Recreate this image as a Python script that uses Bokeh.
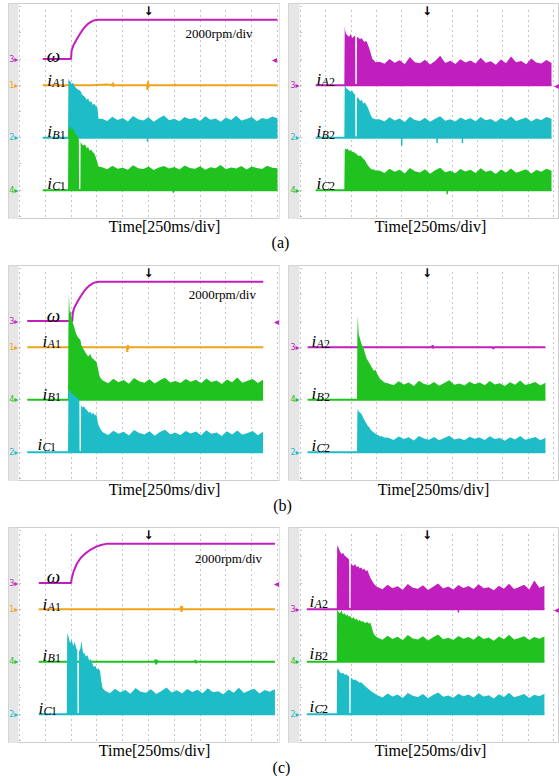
from bokeh.plotting import figure
from bokeh.layouts import column, row
from bokeh.models import Range1d, FixedTicker, BoxAnnotation, Label
from bokeh.core.properties import value
from bokeh.embed import file_html
from bokeh.resources import INLINE

# ---------------- scope settings ----------------
DIV_MS = 250            # time base: 250 ms / div
RPM_PER_DIV = 2000      # speed channel: 2000 rpm / div
T_TRIG = 1250           # trigger position (ms)
X_TICKS = [0, 250, 500, 750, 1000, 1250, 1500, 1750, 2000, 2250, 2500]
Y_TICKS = [0, 1, 2, 3, 4, 5, 6, 7, 8]

MAGENTA = "#c01ebd"
ORANGE = "#f0a41c"
CYAN = "#1dbcc6"
GREEN = "#1fc21f"
CH_COLOR = {1: ORANGE, 2: CYAN, 3: MAGENTA, 4: GREEN}
SERIF = "Liberation Serif"

# ================= DATA (time in ms, currents in div, speed in rpm) =================
# ---------- (a) left ----------
LA_wt = [225, 500, 504, 520, 540, 560, 585, 610, 640, 670, 700, 730, 760, 2500]
LA_w = [0, 0, 600, 1000, 1300, 1580, 1900, 2200, 2500, 2720, 2870, 2960, 3000, 3000]
LA_iat = [225, 700, 850, 900, 905, 910, 915, 1000, 1235, 1240, 1245, 1250, 1255, 1500, 1505, 1510, 2500]
LA_ia = [0, 0, 0.03, 0, 0.10, -0.05, 0, 0, 0, -0.18, 0.15, -0.08, 0, 0, 0.05, 0, 0]
LA_t = [225, 470, 474, 478, 490, 505, 520, 535, 550, 563, 575, 577, 590, 592, 605, 620, 635, 650,
        665, 680, 695, 710, 725, 740, 755, 765,
        800, 850, 900, 950, 1000, 1050, 1100, 1150, 1200, 1250, 1300, 1350, 1400, 1450, 1500,
        1550, 1600, 1650, 1700, 1750, 1800, 1850, 1900, 1950, 2000, 2050, 2100, 2150, 2200,
        2250, 2300, 2350, 2400, 2450, 2500]
LA_ib = [0, 0, 2.30, 2.20, 2.15, 2.05, 2.10, 1.95, 1.90, 1.85, 1.80, 1.85, 1.75, 1.80, 1.65, 1.60,
         1.55, 1.45, 1.50, 1.35, 1.40, 1.25, 1.30, 1.20, 1.15, 0.72,
         0.72, 0.64, 0.80, 0.68, 0.75, 0.62, 0.83, 0.70, 0.66, 0.78, 0.61, 0.74, 0.85, 0.67, 0.72,
         0.63, 0.79, 0.70, 0.76, 0.64, 0.82, 0.69, 0.73, 0.61, 0.77, 0.68, 0.84, 0.66, 0.71, 0.79,
         0.63, 0.75, 0.70, 0.81, 0.74]
LA_ic = [0, 0, 2.20, 2.35, 2.45, 2.30, 2.35, 2.20, 2.10, 2.05, 1.95, 0.05, 0.05, 1.85, 1.75, 1.70,
         1.75, 1.60, 1.65, 1.50, 1.55, 1.45, 1.40, 1.25, 1.05, 0.90,
         0.88, 0.80, 0.93, 0.82, 0.86, 0.78, 0.95, 0.84, 0.81, 0.90, 0.77, 0.87, 0.92, 0.83, 0.89,
         0.79, 0.94, 0.85, 0.82, 0.91, 0.78, 0.88, 0.84, 0.96, 0.80, 0.87, 0.83, 0.92, 0.79, 0.90,
         0.85, 0.81, 0.93, 0.86, 0.84]
LA_ib_dip_t = [1240]
LA_ib_dip = [0.14]
LA_ic_dip_t = [1490]
LA_ic_dip = [0.10]

# ---------- (a) right ----------
RA_t = [150, 433, 437, 441, 450, 465, 480, 495, 510, 525, 540, 542, 556, 558, 575, 590, 605, 620,
        635, 650, 665, 680, 695, 710, 725, 740,
        780, 830, 880, 930, 980, 1030, 1080, 1130, 1180, 1230, 1280, 1330, 1380, 1430, 1480,
        1530, 1580, 1630, 1680, 1730, 1780, 1830, 1880, 1930, 1980, 2030, 2080, 2130, 2180,
        2230, 2280, 2330, 2380, 2430, 2480]
RA_ia = [0, 0, 2.27, 2.10, 1.95, 1.90, 1.85, 1.95, 1.80, 1.85, 1.90, 0.05, 0.05, 1.85, 1.80, 1.75,
         1.80, 1.70, 1.65, 1.70, 1.55, 1.40, 1.20, 1.00, 0.95, 0.88,
         0.90, 0.82, 1.00, 0.86, 0.95, 0.80, 1.08, 0.88, 0.84, 0.97, 0.79, 0.92, 1.12, 0.85, 0.93,
         0.81, 0.99, 0.87, 0.94, 0.83, 1.05, 0.86, 0.91, 0.78, 0.98, 0.84, 1.10, 0.88, 0.92, 0.80,
         1.02, 0.87, 0.83, 0.96, 0.85]
RA_ib = [0, 0, 1.95, 2.00, 1.90, 1.85, 1.80, 1.75, 1.80, 1.70, 1.65, 0.05, 0.05, 1.55, 1.50, 1.40,
         1.45, 1.30, 1.35, 1.25, 1.15, 1.00, 0.85, 0.75, 0.72, 0.70,
         0.70, 0.62, 0.78, 0.66, 0.73, 0.60, 0.80, 0.68, 0.64, 0.76, 0.61, 0.72, 0.82, 0.65, 0.70,
         0.62, 0.77, 0.68, 0.74, 0.63, 0.79, 0.67, 0.71, 0.60, 0.75, 0.66, 0.81, 0.64, 0.70, 0.77,
         0.62, 0.73, 0.68, 0.79, 0.72]
RA_ic = [0, 0, 1.50, 1.60, 1.55, 1.58, 1.50, 1.52, 1.45, 1.48, 1.40, 1.42, 1.38, 1.35, 1.30, 1.32,
         1.28, 1.20, 1.15, 1.05, 0.95, 0.88, 0.82, 0.78, 0.80, 0.75,
         0.75, 0.66, 0.82, 0.70, 0.78, 0.64, 0.85, 0.72, 0.68, 0.80, 0.63, 0.76, 0.86, 0.69, 0.74,
         0.65, 0.81, 0.71, 0.78, 0.66, 0.84, 0.70, 0.75, 0.62, 0.79, 0.68, 0.83, 0.67, 0.73, 0.80,
         0.64, 0.77, 0.70, 0.82, 0.74]
RA_ib_dip_t = [1000, 1350, 1600]
RA_ib_dip = [0.30, 0.20, 0.20]
RA_ic_dip_t = [1450]
RA_ic_dip = [0.15]

# ---------- (b) left ----------
LB_wt = [75, 512, 516, 530, 550, 570, 595, 620, 650, 680, 710, 740, 770, 2362]
LB_w = [0, 0, 600, 1000, 1300, 1580, 1900, 2200, 2500, 2720, 2870, 2960, 3000, 3000]
LB_iat = [75, 1040, 1045, 1050, 1055, 1060, 2362]
LB_ia = [0, 0, -0.18, 0.08, -0.05, 0, 0]
LB_t = [75, 470, 474, 478, 488, 495, 505, 520, 535, 550, 565, 580, 582, 595, 597, 610, 625, 640,
        655, 670, 685, 700, 715, 730, 745, 760, 775, 790,
        810, 860, 910, 960, 1010, 1060, 1110, 1160, 1210, 1260, 1310, 1360, 1410, 1460, 1510,
        1560, 1610, 1660, 1710, 1760, 1810, 1860, 1910, 1960, 2010, 2060, 2110, 2160, 2210,
        2260, 2310, 2360]
LB_ib = [0, 0, 2.80, 4.00, 3.30, 3.40, 3.10, 2.90, 2.70, 2.50, 2.40, 2.30, 2.35, 2.20, 2.10, 2.00,
         1.90, 1.80, 1.70, 1.65, 1.75, 1.60, 1.55, 1.50, 1.45, 1.20, 0.90, 0.80,
         0.72, 0.63, 0.80, 0.67, 0.75, 0.61, 0.83, 0.70, 0.65, 0.78, 0.62, 0.74, 0.84, 0.66, 0.71,
         0.64, 0.79, 0.69, 0.76, 0.63, 0.81, 0.68, 0.73, 0.60, 0.77, 0.67, 0.85, 0.65, 0.72, 0.79,
         0.64, 0.76]
LB_ic = [0, 0, 2.20, 2.40, 2.35, 2.30, 2.25, 2.20, 2.15, 2.10, 2.05, 2.00, 0.05, 0.05, 1.80, 1.70,
         1.75, 1.65, 1.60, 1.50, 1.55, 1.45, 1.50, 1.40, 1.45, 1.10, 0.95, 0.85,
         0.75, 0.66, 0.82, 0.70, 0.78, 0.64, 0.85, 0.73, 0.68, 0.80, 0.63, 0.77, 0.86, 0.69, 0.74,
         0.66, 0.81, 0.71, 0.79, 0.65, 0.84, 0.70, 0.75, 0.62, 0.80, 0.68, 0.83, 0.67, 0.73, 0.81,
         0.65, 0.78]

# ---------- (b) right ----------
RB_iat = [70, 1300, 1305, 1310, 1315, 1900, 1905, 1910, 2420]
RB_ia = [0, 0, 0.08, -0.04, 0, 0, -0.06, 0, 0]
RB_t = [70, 558, 562, 566, 575, 590, 605, 620, 635, 650, 665, 680, 695, 710, 725, 740, 755, 770,
        785, 800, 815, 830,
        870, 920, 970, 1020, 1070, 1120, 1170, 1220, 1270, 1320, 1370, 1420, 1470, 1520, 1570,
        1620, 1670, 1720, 1770, 1820, 1870, 1920, 1970, 2020, 2070, 2120, 2170, 2220, 2270,
        2320, 2370, 2420]
RB_ib = [0, 0, 2.60, 3.20, 2.50, 2.30, 2.10, 2.00, 1.80, 1.60, 1.50, 1.40, 1.30, 1.20, 1.10, 1.15,
         1.00, 0.90, 0.80, 0.75, 0.70, 0.66,
         0.62, 0.55, 0.70, 0.58, 0.66, 0.52, 0.72, 0.60, 0.56, 0.68, 0.53, 0.64, 0.74, 0.57, 0.62,
         0.54, 0.69, 0.59, 0.66, 0.55, 0.71, 0.58, 0.63, 0.52, 0.67, 0.57, 0.73, 0.56, 0.61, 0.68,
         0.54, 0.65]
RB_ic = [0, 0, 1.50, 1.65, 1.55, 1.50, 1.45, 1.30, 1.20, 1.10, 1.00, 0.95, 0.85, 0.80, 0.75, 0.70,
         0.68, 0.65, 0.60, 0.62, 0.58, 0.56,
         0.55, 0.47, 0.60, 0.50, 0.57, 0.45, 0.62, 0.52, 0.48, 0.58, 0.46, 0.54, 0.63, 0.49, 0.53,
         0.46, 0.59, 0.51, 0.56, 0.47, 0.61, 0.50, 0.54, 0.44, 0.57, 0.49, 0.62, 0.48, 0.52, 0.58,
         0.46, 0.55]

# ---------- (c) left ----------
LC_wt = [187, 500, 505, 525, 555, 592, 630, 690, 740, 790, 850, 2475]
LC_w = [0, 0, 300, 900, 1450, 1900, 2200, 2550, 2750, 2900, 3000, 3000]
LC_iat = [187, 1560, 1565, 1570, 1575, 1580, 2475]
LC_ia = [0, 0, 0.12, -0.10, 0.12, 0, 0]
LC_ibt = [187, 1310, 1318, 1325, 1332, 1338, 1700, 1705, 1710, 1715, 2475]
LC_ib = [0, 0, 0.08, -0.10, 0.06, 0, 0, 0.06, -0.05, 0, 0]
LC_t = [187, 458, 462, 466, 475, 490, 505, 520, 535, 550, 560, 562, 575, 577, 590, 600, 615, 630,
        645, 660, 675, 690, 705, 720, 735, 750, 765, 780, 795, 805,
        825, 875, 925, 975, 1025, 1075, 1125, 1175, 1225, 1275, 1325, 1375, 1425, 1475, 1525,
        1575, 1625, 1675, 1725, 1775, 1825, 1875, 1925, 1975, 2025, 2075, 2125, 2175, 2225,
        2275, 2325, 2375, 2425, 2475]
LC_ic = [0, 0, 2.90, 3.10, 2.95, 2.70, 2.85, 2.60, 2.75, 2.50, 2.45, 0.05, 0.05, 2.40, 2.50, 2.80,
         2.35, 2.30, 2.20, 2.25, 2.05, 2.10, 1.95, 1.80, 1.85, 1.70, 1.75, 1.65, 1.20, 1.00,
         0.90, 0.80, 0.97, 0.84, 0.92, 0.78, 1.00, 0.86, 0.82, 0.95, 0.77, 0.89, 1.02, 0.83, 0.91,
         0.79, 0.96, 0.85, 0.93, 0.80, 0.99, 0.84, 0.88, 0.76, 0.94, 0.82, 1.01, 0.81, 0.90, 0.97,
         0.79, 0.92, 0.86, 0.95]

# ---------- (c) right ----------
RC_t = [62, 358, 362, 366, 375, 390, 405, 420, 435, 450, 465, 480, 482, 495, 497, 510, 525, 540,
        555, 570, 585, 600, 615, 630, 645, 660, 675, 690, 705, 720, 735, 750,
        760, 810, 860, 910, 960, 1010, 1060, 1110, 1160, 1210, 1260, 1310, 1360, 1410, 1460,
        1510, 1560, 1610, 1660, 1710, 1760, 1810, 1860, 1910, 1960, 2010, 2060, 2110, 2160,
        2210, 2260, 2310, 2360, 2410]
RC_ia = [0, 0, 2.30, 2.45, 2.35, 2.20, 2.10, 2.15, 2.05, 2.00, 1.95, 1.90, 0.05, 0.05, 1.75, 1.70,
         1.65, 1.72, 1.60, 1.65, 1.55, 1.60, 1.50, 1.55, 1.45, 1.50, 1.35, 1.20, 1.10, 1.00, 0.92,
         0.88,
         0.85, 0.76, 0.93, 0.80, 0.88, 0.74, 0.96, 0.82, 0.78, 0.91, 0.73, 0.86, 0.98, 0.79, 0.87,
         0.75, 0.92, 0.81, 0.89, 0.77, 0.95, 0.80, 0.84, 0.72, 0.90, 0.78, 0.97, 0.77, 0.85, 0.93,
         0.75, 1.10, 0.82, 0.90]
RC_ib = [0, 0, 1.95, 2.00, 1.90, 1.85, 1.95, 1.80, 1.85, 1.75, 1.80, 1.70, 1.75, 1.72, 1.70, 1.65,
         1.70, 1.60, 1.65, 1.55, 1.60, 1.52, 1.55, 1.50, 1.48, 1.52, 1.45, 1.50, 1.30, 1.10, 1.00,
         0.95,
         0.92, 0.84, 0.99, 0.87, 0.95, 0.82, 1.02, 0.89, 0.85, 0.97, 0.81, 0.93, 1.04, 0.86, 0.91,
         0.83, 0.98, 0.88, 0.94, 0.84, 1.00, 0.87, 0.92, 0.80, 0.96, 0.86, 1.03, 0.85, 0.90, 0.97,
         0.83, 0.94, 0.88, 0.96]
RC_ic = [0, 0, 1.65, 1.75, 1.70, 1.60, 1.55, 1.58, 1.50, 1.52, 1.48, 1.45, 0.05, 0.05, 1.40, 1.35,
         1.30, 1.32, 1.28, 1.25, 1.20, 1.22, 1.15, 1.10, 1.05, 1.00, 0.95, 0.90, 0.86, 0.82, 0.78,
         0.75,
         0.72, 0.64, 0.79, 0.68, 0.75, 0.62, 0.81, 0.70, 0.66, 0.77, 0.61, 0.73, 0.83, 0.67, 0.71,
         0.63, 0.78, 0.69, 0.75, 0.64, 0.80, 0.68, 0.72, 0.60, 0.76, 0.66, 0.82, 0.65, 0.70, 0.77,
         0.62, 0.74, 0.69, 0.78]
RC_ia_dip_t = [1560]
RC_ia_dip = [0.12]

# ================= drawing helpers =================
PANEL_H = 216


def new_panel(left):
    if left:
        xr = Range1d(-106.6, 2529)
        fw = 272
    else:
        xr = Range1d(-118.6, 2559)
        fw = 271
    p = figure(frame_width=fw, frame_height=PANEL_H, x_range=xr, y_range=Range1d(-0.115, 8.115),
               toolbar_location=None, output_backend="svg",
               min_border_left=8, min_border_right=0, min_border_top=3, min_border_bottom=0)
    p.xaxis.visible = False
    p.yaxis.visible = False
    p.background_fill_color = "white"
    p.border_fill_color = "white"
    p.outline_line_color = "#cdcdcd"
    # grey channel-marker strip (drawn first, under the grid)
    p.add_layout(BoxAnnotation(right=-10, fill_color="#e6e6e6", fill_alpha=1,
                               line_color=None, level="image"))
    if left:
        p.add_layout(BoxAnnotation(left=2512, fill_color="#e6e6e6", fill_alpha=1,
                                   line_color=None, level="image"))
    p.xgrid.ticker = FixedTicker(ticks=X_TICKS)
    p.ygrid.ticker = FixedTicker(ticks=Y_TICKS)
    for g in (p.xgrid, p.ygrid):
        g.grid_line_color = "#8c8c8c"
        g.grid_line_dash = "1 4"
        g.grid_line_width = 1
        if "cross_bounds" in g.properties():
            g.cross_bounds = (0, 2500) if g is p.ygrid else (0, 8)
    p.add_layout(Label(x=T_TRIG, y=8.115, text="↓", text_align="center", text_baseline="top",
                       text_font="DejaVu Sans", text_font_style="bold", text_font_size="12px",
                       text_color="black"))
    return p


def markers(p, chans, right_level=None, right_x=2480):
    for ch, lvl in chans:
        p.add_layout(Label(x=-55, y=lvl, text=f"{ch}▸", text_align="center", text_baseline="middle",
                           text_font="DejaVu Sans", text_font_size="8px", text_color=CH_COLOR[ch]))
    if right_level is not None:
        p.add_layout(Label(x=right_x, y=right_level, text="◂", text_align="center",
                           text_baseline="middle", text_font="DejaVu Sans", text_font_size="10px",
                           text_color=MAGENTA))


def band(p, t, top, level, color, dip_t=None, dip=None):
    p.varea(x=t, y1=[level] * len(t), y2=[level + v for v in top], fill_color=color)
    p.line(x=[t[0], t[-1]], y=[level, level], line_color=color, line_width=2)
    if dip_t:
        p.segment(x0=dip_t, y0=[level] * len(dip_t), x1=dip_t, y1=[level - d for d in dip],
                  line_color=color, line_width=1.5)


def flat(p, t, v, level, color):
    p.line(x=t, y=[level + a for a in v], line_color=color, line_width=2)


def speed(p, t, w, level):
    p.line(x=t, y=[level + s / RPM_PER_DIV for s in w], line_color=MAGENTA, line_width=2)


def omega_label(p, x, y):
    p.add_layout(Label(x=x, y=y, text="ω", text_align="center", text_baseline="alphabetic",
                       text_font=SERIF, text_font_style="italic", text_font_size="19px",
                       text_color="black"))


def i_label(p, x, y, letter, num):
    p.add_layout(Label(x=x, y=y, text="i", text_baseline="alphabetic", text_font=SERIF,
                       text_font_style="italic", text_font_size="17px", text_color="black"))
    p.add_layout(Label(x=x, y=y - 0.1, x_offset=5, text=letter, text_baseline="alphabetic",
                       text_font=SERIF, text_font_style="italic", text_font_size="12px",
                       text_color="black"))
    p.add_layout(Label(x=x, y=y - 0.1, x_offset=12.5, text=num, text_baseline="alphabetic",
                       text_font=SERIF, text_font_size="12px", text_color="black"))


def rpm_label(p, x, y):
    p.add_layout(Label(x=x, y=y, text="2000rpm/div", text_baseline="middle", text_font=SERIF,
                       text_font_size="13px", text_color="black"))


def caption(h, y_time, y_tag, x_left, x_right, x_tag, tag):
    c = figure(frame_width=559, frame_height=h, x_range=Range1d(0, 559), y_range=Range1d(h, 0),
               toolbar_location=None, output_backend="svg", min_border=0)
    c.xaxis.visible = False
    c.yaxis.visible = False
    c.grid.visible = False
    c.outline_line_color = None
    c.text(x=[x_left, x_right], y=[y_time, y_time], text=["Time[250ms/div]", "Time[250ms/div]"],
           text_font=value(SERIF), text_font_size="16px", text_align="center",
           text_baseline="middle", text_color="black")
    c.text(x=[x_tag], y=[y_tag], text=[tag], text_font=value(SERIF), text_font_size="16px",
           text_align="center", text_baseline="middle", text_color="black")
    return c


# ================= (a) =================
pa1 = new_panel(True)
speed(pa1, LA_wt, LA_w, 6)
flat(pa1, LA_iat, LA_ia, 5, ORANGE)
band(pa1, LA_t, LA_ib, 3, CYAN, LA_ib_dip_t, LA_ib_dip)
band(pa1, LA_t, LA_ic, 1, GREEN, LA_ic_dip_t, LA_ic_dip)
markers(pa1, [(3, 6), (1, 5), (2, 3), (4, 1)], right_level=6, right_x=2470)
omega_label(pa1, 330, 6.15)
i_label(pa1, 270, 5.2, "A", "1")
i_label(pa1, 270, 3.22, "B", "1")
i_label(pa1, 270, 1.25, "C", "1")
rpm_label(pa1, 1608, 6.98)

pa2 = new_panel(False)
band(pa2, RA_t, RA_ia, 5, MAGENTA)
band(pa2, RA_t, RA_ib, 3, CYAN, RA_ib_dip_t, RA_ib_dip)
band(pa2, RA_t, RA_ic, 1, GREEN, RA_ic_dip_t, RA_ic_dip)
markers(pa2, [(3, 5), (2, 3), (4, 1)], right_level=5, right_x=2530)
i_label(pa2, 158, 5.23, "A", "2")
i_label(pa2, 158, 3.22, "B", "2")
i_label(pa2, 158, 1.25, "C", "2")

# ================= (b) =================
pb1 = new_panel(True)
speed(pb1, LB_wt, LB_w, 6)
flat(pb1, LB_iat, LB_ia, 5, ORANGE)
band(pb1, LB_t, LB_ib, 3, GREEN)
band(pb1, LB_t, LB_ic, 1, CYAN)
markers(pb1, [(3, 6), (1, 5), (4, 3), (2, 1)], right_level=6, right_x=2490)
omega_label(pb1, 330, 6.2)
i_label(pb1, 222, 5.22, "A", "1")
i_label(pb1, 222, 3.2, "B", "1")
i_label(pb1, 175, 1.3, "C", "1")
rpm_label(pb1, 1640, 7.0)

pb2 = new_panel(False)
flat(pb2, RB_iat, RB_ia, 5, MAGENTA)
band(pb2, RB_t, RB_ib, 3, GREEN)
band(pb2, RB_t, RB_ic, 1, CYAN)
markers(pb2, [(3, 5), (4, 3), (2, 1)])
i_label(pb2, 108, 5.23, "A", "2")
i_label(pb2, 108, 3.22, "B", "2")
i_label(pb2, 108, 1.27, "C", "2")

# ================= (c) =================
pc1 = new_panel(True)
speed(pc1, LC_wt, LC_w, 6)
flat(pc1, LC_iat, LC_ia, 5, ORANGE)
flat(pc1, LC_ibt, LC_ib, 3, GREEN)
band(pc1, LC_t, LC_ic, 1, CYAN)
markers(pc1, [(3, 6), (1, 5), (4, 3), (2, 1)], right_level=6, right_x=2490)
omega_label(pc1, 330, 6.23)
i_label(pc1, 222, 5.2, "A", "1")
i_label(pc1, 222, 3.23, "B", "1")
i_label(pc1, 185, 1.23, "C", "1")
rpm_label(pc1, 1700, 6.95)

pc2 = new_panel(False)
band(pc2, RC_t, RC_ia, 5, MAGENTA, RC_ia_dip_t, RC_ia_dip)
band(pc2, RC_t, RC_ib, 3, GREEN)
band(pc2, RC_t, RC_ic, 1, CYAN)
markers(pc2, [(3, 5), (4, 3), (2, 1)], right_level=5, right_x=2530)
i_label(pc2, 90, 5.3, "A", "2")
i_label(pc2, 90, 3.3, "B", "2")
i_label(pc2, 90, 1.3, "C", "2")

cap_a = caption(43, 7, 23, 164, 430, 280, "(a)")
cap_b = caption(43, 8, 24, 164, 433, 282, "(b)")
cap_c = caption(33, 7, 24, 154, 430, 281, "(c)")

layout = column(row(pa1, pa2), cap_a, row(pb1, pb2), cap_b, row(pc1, pc2), cap_c)

open("out.html", "w").write(file_html(layout, INLINE))
